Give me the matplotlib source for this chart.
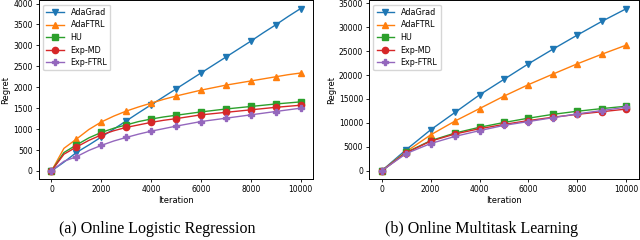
import matplotlib
matplotlib.use("Agg")
import matplotlib.pyplot as plt

# (a) online logistic regression, sampled every 500 iterations
iters_a = [0, 500, 1000, 1500, 2000, 2500, 3000, 3500, 4000, 4500, 5000,
           5500, 6000, 6500, 7000, 7500, 8000, 8500, 9000, 9500, 10000]
adagrad_a = [0, 210, 440, 620, 810, 1000, 1195, 1390, 1580, 1770, 1960,
             2150, 2340, 2530, 2720, 2910, 3100, 3300, 3490, 3690, 3880]
adaftrl_a = [0, 540, 760, 990, 1170, 1310, 1430, 1530, 1620, 1710, 1790,
             1860, 1930, 1990, 2050, 2100, 2150, 2200, 2250, 2300, 2340]
hu_a = [0, 440, 620, 790, 920, 1020, 1100, 1180, 1240, 1290, 1330,
        1370, 1410, 1445, 1480, 1510, 1540, 1570, 1600, 1625, 1650]
expmd_a = [0, 400, 570, 730, 860, 960, 1040, 1100, 1160, 1210, 1250,
           1295, 1340, 1370, 1400, 1430, 1460, 1490, 1520, 1545, 1570]
expftrl_a = [0, 230, 340, 490, 610, 715, 800, 880, 950, 1010, 1070,
             1125, 1180, 1220, 1260, 1300, 1340, 1380, 1420, 1460, 1500]

# (b) online multitask learning, sampled every 1000 iterations
iters_b = [0, 1000, 2000, 3000, 4000, 5000, 6000, 7000, 8000, 9000, 10000]
adagrad_b = [0, 4400, 8550, 12200, 15850, 19100, 22350, 25400, 28350, 31200, 33850]
adaftrl_b = [0, 4000, 7500, 10400, 13000, 15600, 18000, 20200, 22350, 24350, 26250]
hu_b = [0, 3850, 6300, 7900, 9100, 10100, 11000, 11800, 12450, 13000, 13500]
expmd_b = [0, 3750, 6200, 7700, 8800, 9700, 10500, 11200, 11800, 12350, 12900]
expftrl_b = [0, 3600, 5700, 7200, 8400, 9500, 10300, 11100, 11900, 12600, 13300]

names = ['AdaGrad', 'AdaFTRL', 'HU', 'Exp-MD', 'Exp-FTRL']
markers = ['v', '^', 's', 'o', 'P']
colors = ['tab:blue', 'tab:orange', 'tab:green', 'tab:red', 'tab:purple']

fig = plt.figure(figsize=(6.4, 2.4), dpi=100)
ax_a = fig.add_axes([0.061, 0.254, 0.428, 0.744])
ax_b = fig.add_axes([0.577, 0.254, 0.421, 0.744])


def draw(ax, x, series, every):
    for y, name, m, c in zip(series, names, markers, colors):
        ax.plot(x, y, marker=m, color=c, label=name, markevery=every,
                markersize=4.5, linewidth=1.0)
    ax.set_xticks([0, 2000, 4000, 6000, 8000, 10000])
    ax.tick_params(labelsize=5.5, length=2.5, width=0.6, pad=2)
    ax.set_xlabel('Iteration', fontsize=6, labelpad=1)
    ax.set_ylabel('Regret', fontsize=6, labelpad=2)
    for s in ax.spines.values():
        s.set_linewidth(0.7)
    ax.legend(loc='upper left', fontsize=5.8, handlelength=2.2,
              borderpad=0.4, labelspacing=0.45, framealpha=0.8)


draw(ax_a, iters_a, [adagrad_a, adaftrl_a, hu_a, expmd_a, expftrl_a], 2)
draw(ax_b, iters_b, [adagrad_b, adaftrl_b, hu_b, expmd_b, expftrl_b], 1)
ax_a.set_yticks(range(0, 4001, 500))
ax_b.set_yticks(range(0, 35001, 5000))

fig.text(0.245, 0.03, '(a) Online Logistic Regression', ha='center',
         fontsize=11.5, family='Liberation Serif')
fig.text(0.753, 0.03, '(b) Online Multitask Learning', ha='center',
         fontsize=11.5, family='Liberation Serif')

fig.savefig('out.png', dpi=100)
